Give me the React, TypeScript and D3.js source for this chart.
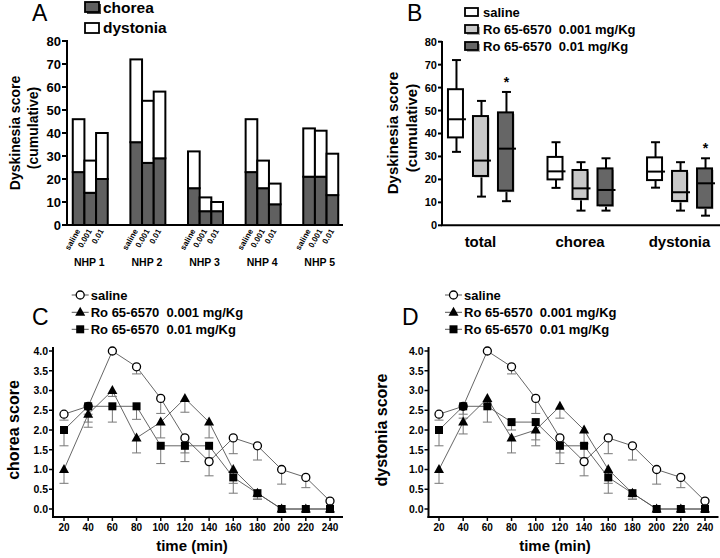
import React from 'react';
import * as d3 from 'd3';

const FONT = "'Liberation Sans', Arial, Helvetica, sans-serif";

// ---------- Panel A ----------
const nhpGroups = ['NHP 1', 'NHP 2', 'NHP 3', 'NHP 4', 'NHP 5'];
const doseLabels = ['saline', '0.001', '0.01'];
const choreaA = [[23, 14, 20], [36, 27, 29], [16, 6, 6], [23, 16, 9], [21, 21, 13]];
const dystoniaA = [[23, 14, 20], [36, 27, 29], [16, 6, 4], [23, 12, 9], [21, 20, 18]];
const yTicksA = [0, 10, 20, 30, 40, 50, 60, 70, 80];

// ---------- Panel B ----------
const bCategories = ['total', 'chorea', 'dystonia'];
const bTreatments = ['saline', 'Ro 65-6570  0.001 mg/Kg', 'Ro 65-6570  0.01 mg/Kg'];
// [min, q1, median, q3, max] per category
const boxSaline = [[32, 38.3, 46.2, 59.3, 72], [16.3, 20, 23.5, 29.8, 36.2], [16.4, 19.7, 23.4, 29.6, 36.2]];
const boxLow = [[12.5, 21.5, 28.2, 47.6, 54.2], [6.4, 11.5, 16.1, 24.1, 27.5], [6.4, 10.6, 14.4, 23.7, 27.5]];
const boxHigh = [[10.5, 15.1, 33.4, 49.2, 58.1], [6.4, 8.7, 15.4, 24.8, 29.2], [4.2, 7.7, 18.3, 24.8, 29.2]];
const starTotal = [false, false, true];
const starChorea = [false, false, false];
const starDystonia = [false, false, true];
const yTicksB = [0, 10, 20, 30, 40, 50, 60, 70, 80];

// ---------- Panels C & D ----------
const times = [20, 40, 60, 80, 100, 120, 140, 160, 180, 200, 220, 240];
const yTicksCD = [0, 0.5, 1, 1.5, 2, 2.5, 3, 3.5, 4];
const salineMean = [2.4, 2.6, 4.0, 3.6, 2.8, 1.8, 1.2, 1.8, 1.6, 1.0, 0.8, 0.2];
const salineSem = [0.15, 0.2, 0, 0.18, 0.38, 0.38, 0.36, 0.4, 0.36, 0.37, 0.26, 0];
const choreaLowMean = [1.0, 2.4, 3.0, 1.8, 2.2, 2.8, 2.2, 1.0, 0.4, 0, 0, 0];
const choreaLowSem = [0.35, 0.33, 0.15, 0.38, 0.4, 0.35, 0.4, 0.35, 0.15, 0, 0, 0];
const choreaHighMean = [2.0, 2.6, 2.6, 2.6, 1.6, 1.6, 1.6, 0.8, 0.4, 0, 0, 0];
const choreaHighSem = [0.4, 0.4, 0.4, 0.33, 0.45, 0.4, 0.3, 0.4, 0.15, 0, 0, 0];
const dystLowMean = [1.0, 2.2, 2.8, 1.8, 2.0, 2.6, 2.0, 1.0, 0.4, 0, 0, 0];
const dystLowSem = [0.35, 0.3, 0.15, 0.38, 0.25, 0.3, 0.35, 0.35, 0.15, 0, 0, 0];
const dystHighMean = [2.0, 2.6, 2.6, 2.2, 2.2, 1.6, 1.6, 0.8, 0.4, 0, 0, 0];
const dystHighSem = [0.4, 0.3, 0.4, 0.2, 0.6, 0.45, 0.3, 0.4, 0.15, 0, 0, 0];
const lineLegend = ['saline', 'Ro 65-6570  0.001 mg/Kg', 'Ro 65-6570  0.01 mg/Kg'];

const boldText = { fontFamily: FONT, fontWeight: 700 as const, whiteSpace: 'pre' as const };

function PanelA() {
  const y = d3.scaleLinear().domain([0, 80]).range([225, 41]);
  const x = d3.scaleBand().domain(nhpGroups).range([67, 344]).paddingInner(0.393).paddingOuter(0.1);
  const x2 = d3.scaleBand().domain(doseLabels).range([0, x.bandwidth()]);
  return (
    <g>
      <text x={32} y={21} style={{ fontFamily: FONT, fontSize: 23 }}>A</text>
      <rect x={87} y={4} width={14} height={10} fill="#444" />
      <rect x={85} y={2} width={14} height={10} fill="#606060" stroke="#000" strokeWidth={1.8} />
      <text x={103} y={13} style={{ ...boldText, fontSize: 15.5 }}>chorea</text>
      <rect x={85} y={23} width={14} height={10} fill="#fff" stroke="#000" strokeWidth={1.8} />
      <text x={103} y={33} style={{ ...boldText, fontSize: 15.5 }}>dystonia</text>
      {nhpGroups.map((g, gi) =>
        doseLabels.map((d, di) => {
          const c = choreaA[gi][di];
          const t = c + dystoniaA[gi][di];
          const bx = (x(g) as number) + (x2(d) as number);
          return (
            <g key={g + d}>
              <rect x={bx} y={y(c)} width={x2.bandwidth()} height={y(0) - y(c)} fill="#606060" stroke="#000" strokeWidth={2} />
              <rect x={bx} y={y(t)} width={x2.bandwidth()} height={y(c) - y(t)} fill="#fff" stroke="#000" strokeWidth={2} />
              <text
                transform={`translate(${bx + x2.bandwidth() / 2 + 2},${231}) rotate(-60)`}
                textAnchor="end"
                style={{ ...boldText, fontSize: 8 }}
              >
                {d}
              </text>
            </g>
          );
        })
      )}
      {nhpGroups.map((g) => (
        <text key={g} x={(x(g) as number) + x.bandwidth() / 2 - 1} y={266} textAnchor="middle" style={{ ...boldText, fontSize: 10.5 }}>
          {g}
        </text>
      ))}
      <line x1={67} x2={67} y1={40} y2={226} stroke="#000" strokeWidth={2} />
      <line x1={66} x2={343} y1={225} y2={225} stroke="#000" strokeWidth={2} />
      {yTicksA.map((t) => (
        <g key={t}>
          <line x1={62} x2={67} y1={y(t)} y2={y(t)} stroke="#000" strokeWidth={2} />
          <text x={61} y={y(t)} dy="0.36em" textAnchor="end" style={{ ...boldText, fontSize: 13 }}>{t}</text>
        </g>
      ))}
      <text transform="translate(20,133) rotate(-90)" textAnchor="middle" style={{ ...boldText, fontSize: 14 }}>Dyskinesia score</text>
      <text transform="translate(38,128) rotate(-90)" textAnchor="middle" style={{ ...boldText, fontSize: 14 }}>(cumulative)</text>
    </g>
  );
}

function PanelB() {
  const y = d3.scaleLinear().domain([0, 80]).range([225.3, 41.7]);
  const x = d3.scaleBand().domain(bCategories).range([442, 718]).paddingInner(0.347).paddingOuter(0.06);
  const x2 = d3.scaleBand().domain(bTreatments).range([0, x.bandwidth()]).paddingInner(0.4);
  const fills = ['#ffffff', '#c8c8c8', '#666666'];
  const boxes = [boxSaline, boxLow, boxHigh];
  const stars = [starTotal, starChorea, starDystonia];
  const w = x2.bandwidth();
  return (
    <g>
      <text x={407} y={21} style={{ fontFamily: FONT, fontSize: 23 }}>B</text>
      {bTreatments.map((t, i) => (
        <g key={t}>
          {i > 0 && <rect x={467} y={8 + i * 17 + 2} width={13} height={8} fill="#aaa" />}
          <rect x={465} y={8 + i * 17} width={13} height={8} fill={fills[i]} stroke="#000" strokeWidth={1.8} />
          <text x={483} y={16.5 + i * 17} style={{ ...boldText, fontSize: 13 }}>{t}</text>
        </g>
      ))}
      {bCategories.map((c, ci) =>
        bTreatments.map((t, ti) => {
          const [mn, q1, md, q3, mx] = boxes[ti][ci];
          const bx = (x(c) as number) + (x2(t) as number);
          const cx = bx + w / 2 + 1;
          return (
            <g key={c + t}>
              <line x1={cx} x2={cx} y1={y(mx)} y2={y(q3)} stroke="#000" strokeWidth={2} />
              <line x1={cx} x2={cx} y1={y(q1)} y2={y(mn)} stroke="#000" strokeWidth={2} />
              <line x1={cx - 4.5} x2={cx + 4.5} y1={y(mx)} y2={y(mx)} stroke="#000" strokeWidth={2} />
              <line x1={cx - 4.5} x2={cx + 4.5} y1={y(mn)} y2={y(mn)} stroke="#000" strokeWidth={2} />
              {ti > 0 && <rect x={bx + 1.5} y={y(q3) + 1.5} width={w} height={y(q1) - y(q3)} fill="#b0b0b0" />}
              <rect x={bx} y={y(q3)} width={w} height={y(q1) - y(q3)} fill={fills[ti]} stroke="#000" strokeWidth={2} />
              <line x1={bx} x2={bx + w + 3} y1={y(md)} y2={y(md)} stroke="#000" strokeWidth={2} />
              {stars[ci][ti] && (
                <text x={cx} y={y(mx) - 5} textAnchor="middle" style={{ ...boldText, fontSize: 14 }}>*</text>
              )}
            </g>
          );
        })
      )}
      {bCategories.map((c) => (
        <text key={c} x={(x(c) as number) + x.bandwidth() / 2} y={247} textAnchor="middle" style={{ ...boldText, fontSize: 15 }}>{c}</text>
      ))}
      <line x1={442} x2={442} y1={41} y2={226} stroke="#000" strokeWidth={2} />
      <line x1={441} x2={720} y1={225.3} y2={225.3} stroke="#000" strokeWidth={2} />
      {yTicksB.map((t) => (
        <g key={t}>
          <line x1={438} x2={442} y1={y(t)} y2={y(t)} stroke="#000" strokeWidth={2} />
          <text x={437} y={y(t)} dy="0.36em" textAnchor="end" style={{ ...boldText, fontSize: 11 }}>{t}</text>
        </g>
      ))}
      <text transform="translate(398,133) rotate(-90)" textAnchor="middle" style={{ ...boldText, fontSize: 15 }}>Dyskinesia score</text>
      <text transform="translate(417,128) rotate(-90)" textAnchor="middle" style={{ ...boldText, fontSize: 15 }}>(cumulative)</text>
    </g>
  );
}

function Marker({ kind, x, y }: { kind: number; x: number; y: number }) {
  if (kind === 0) return <circle cx={x} cy={y} r={4} fill="#fff" stroke="#000" strokeWidth={1.3} />;
  if (kind === 1)
    return <path d={`M${x},${y - 5.5}L${x + 5},${y + 3.5}L${x - 5},${y + 3.5}Z`} fill="#000" />;
  return <rect x={x - 4} y={y - 4} width={8} height={8} fill="#000" />;
}

function TimePanel({
  letter, axisX, x0, x1, legendX, yTitle, yTitleX, xTitleX, means, sems,
}: {
  letter: string; axisX: number; x0: number; x1: number; legendX: number; yTitle: string;
  yTitleX: number; xTitleX: number; means: number[][]; sems: number[][];
}) {
  const x = d3.scaleLinear().domain([20, 240]).range([x0, x1]);
  const y = d3.scaleLinear().domain([0, 4]).range([509, 351]);
  const line = d3.line<number>().x((_, i) => x(times[i])).y((v) => y(v));
  const legendY = [295, 312.3, 329.3];
  const axisY = 517;
  return (
    <g>
      <text x={letter === 'C' ? 32 : 402} y={325} style={{ fontFamily: FONT, fontSize: 23 }}>{letter}</text>
      {lineLegend.map((l, i) => (
        <g key={l}>
          <line x1={legendX} x2={legendX + 17} y1={legendY[i]} y2={legendY[i]} stroke="#555" strokeWidth={1} />
          <Marker kind={i} x={legendX + 8.5} y={legendY[i]} />
          <text x={legendX + 19} y={legendY[i] + 4.5} style={{ ...boldText, fontSize: 13 }}>{l}</text>
        </g>
      ))}
      {means.map((m, si) => (
        <path key={'l' + si} d={line(m) || ''} fill="none" stroke="#555" strokeWidth={0.9} />
      ))}
      {means.map((m, si) =>
        m.map((v, i) => {
          const e = sems[si][i];
          if (!e) return null;
          const px = x(times[i]);
          return (
            <g key={'e' + si + '-' + i}>
              <line x1={px} x2={px} y1={y(v)} y2={y(v - e)} stroke="#777" strokeWidth={1} />
              <line x1={px - 4.5} x2={px + 4.5} y1={y(v - e)} y2={y(v - e)} stroke="#777" strokeWidth={1} />
            </g>
          );
        })
      )}
      {means.map((m, si) =>
        m.map((v, i) => <Marker key={'m' + si + '-' + i} kind={si} x={x(times[i])} y={y(v)} />)
      )}
      <line x1={axisX} x2={axisX} y1={347} y2={axisY + 1} stroke="#000" strokeWidth={2} />
      <line x1={axisX - 1} x2={axisX + 290} y1={axisY} y2={axisY} stroke="#000" strokeWidth={2} />
      {yTicksCD.map((t) => (
        <g key={t}>
          <line x1={axisX - 4} x2={axisX} y1={y(t)} y2={y(t)} stroke="#000" strokeWidth={1.5} />
          <text x={axisX - 5} y={y(t)} dy="0.36em" textAnchor="end" style={{ ...boldText, fontSize: 10.5 }}>
            {d3.format('.1f')(t)}
          </text>
        </g>
      ))}
      {times.map((t) => (
        <g key={t}>
          <line x1={x(t)} x2={x(t)} y1={axisY} y2={axisY + 4} stroke="#000" strokeWidth={1.5} />
          <text x={x(t)} y={531} textAnchor="middle" style={{ ...boldText, fontSize: 10 }}>{t}</text>
        </g>
      ))}
      <text transform={`translate(${yTitleX},430) rotate(-90)`} textAnchor="middle" style={{ ...boldText, fontSize: 16 }}>{yTitle}</text>
      <text x={xTitleX} y={551} textAnchor="middle" style={{ ...boldText, fontSize: 15 }}>time (min)</text>
    </g>
  );
}

export default function App() {
  return (
    <svg width={720} height={558} style={{ position: 'absolute', left: 0, top: 0, background: '#fff' }}>
      <rect width={720} height={558} fill="#fff" />
      <PanelA />
      <PanelB />
      <TimePanel
        letter="C" axisX={53} x0={64} x1={330} legendX={71.7} yTitle="chorea score" yTitleX={19} xTitleX={192}
        means={[salineMean, choreaLowMean, choreaHighMean]} sems={[salineSem, choreaLowSem, choreaHighSem]}
      />
      <TimePanel
        letter="D" axisX={428.5} x0={439} x1={705} legendX={445} yTitle="dystonia score" yTitleX={387} xTitleX={555}
        means={[salineMean, dystLowMean, dystHighMean]} sems={[salineSem, dystLowSem, dystHighSem]}
      />
    </svg>
  );
}
